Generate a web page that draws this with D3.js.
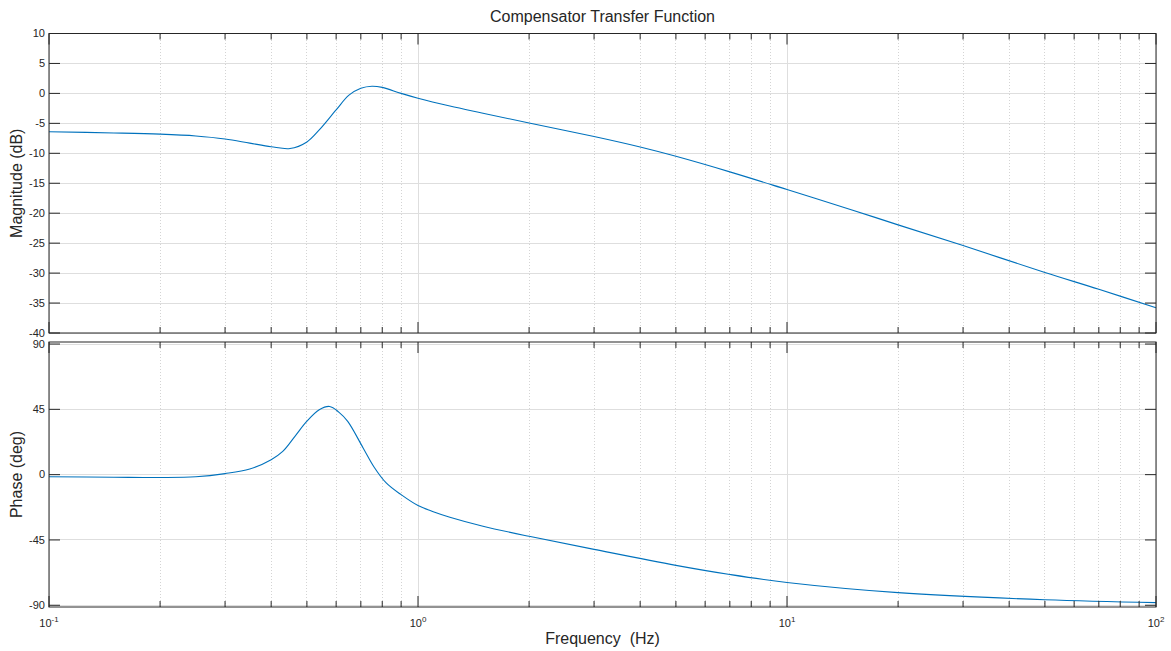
<!DOCTYPE html>
<html><head><meta charset="utf-8">
<script src="https://cdn.jsdelivr.net/npm/d3@7"></script>
<style>
body{margin:0;background:#fff;}
text{font-family:"Liberation Sans",Arial,Helvetica,sans-serif;fill:#262626;}
</style></head>
<body><svg id="c" width="1171" height="651"></svg>
<script>
const freqMag = [0.1,0.15,0.2,0.25,0.3,0.35,0.4,0.45,0.5,0.54,0.6,0.65,0.7,0.75,0.8,0.9,1,1.22,1.5,2,3,4,5,7,10,15,20,30,50,70,100];
const magDb   = [-6.4,-6.6,-6.8,-7.1,-7.6,-8.3,-8.9,-9.2,-8.1,-6.1,-2.75,-0.3,0.85,1.2,1.0,0.0,-0.8,-2.1,-3.3,-4.95,-7.2,-8.95,-10.5,-13.1,-16.05,-19.45,-21.95,-25.4,-29.9,-32.7,-35.8];
const freqPh  = [0.1,0.15,0.2,0.25,0.3,0.35,0.4,0.43,0.464,0.5,0.54,0.576,0.61,0.645,0.71,0.76,0.82,0.9,1,1.1,1.22,1.5,2,3,5,7,10,20,50,100];
const phaseDeg= [-1.4,-1.8,-2.0,-1.5,0.7,3.9,10.3,16,26.4,36.8,44.7,47,43.1,36.7,18.4,5.3,-5.7,-13.8,-21.3,-25.5,-29.3,-35.5,-42.5,-51.5,-62.5,-68.8,-74.3,-81.3,-86.2,-88.2];
const magTicks = [10,5,0,-5,-10,-15,-20,-25,-30,-35,-40];
const phaseTicks = [90,45,0,-45,-90];
const decadeTicks = [0.1,1,10,100];
const decadeLabels = ["-1","0","1","2"];

const svg = d3.select("#c");
const L = 49, R = 1156;
const x = d3.scaleLog().domain([0.1,100]).range([L,R]);
const yM = d3.scaleLinear().domain([-40,10]).range([333,33.5]);
const yP = d3.scaleLinear().domain([-91.2,91.4]).range([607,342]);
const axisCol = "#262626";

const minor = [];
for (let d=-1; d<2; d++) for (let k=2; k<=9; k++) minor.push(k*Math.pow(10,d));

function panel(y, ticks, vals, freqs) {
  const [b,t] = y.range();
  const g = svg.append("g");
  g.selectAll(".mg").data(minor).join("line")
    .attr("x1",d=>x(d)).attr("x2",d=>x(d)).attr("y1",t).attr("y2",b)
    .attr("stroke","#d4d4d4").attr("stroke-width",1).attr("stroke-dasharray","1,2").attr("shape-rendering","crispEdges");
  g.selectAll(".Mg").data(decadeTicks).join("line")
    .attr("x1",d=>x(d)).attr("x2",d=>x(d)).attr("y1",t).attr("y2",b)
    .attr("stroke","#dedede").attr("stroke-width",1).attr("shape-rendering","crispEdges");
  g.selectAll(".yg").data(ticks).join("line")
    .attr("x1",L).attr("x2",R).attr("y1",d=>y(d)).attr("y2",d=>y(d))
    .attr("stroke","#dedede").attr("stroke-width",1).attr("shape-rendering","crispEdges");
  const line = d3.line().x(d=>x(d[0])).y(d=>y(d[1])).curve(d3.curveCatmullRom.alpha(0.5));
  g.append("path").datum(freqs.map((f,i)=>[f,vals[i]]))
    .attr("d",line).attr("fill","none").attr("stroke","#0072BD").attr("stroke-width",1.1);
  g.append("rect").attr("x",L).attr("y",t).attr("width",R-L).attr("height",b-t)
    .attr("fill","none").attr("stroke",axisCol).attr("stroke-width",1);
  g.selectAll(".yt").data(ticks).join("line")
    .attr("x1",L).attr("x2",L+11).attr("y1",d=>y(d)).attr("y2",d=>y(d)).attr("stroke",axisCol);
  g.selectAll(".yt2").data(ticks).join("line")
    .attr("x1",R-11).attr("x2",R).attr("y1",d=>y(d)).attr("y2",d=>y(d)).attr("stroke",axisCol);
  g.selectAll(".xt").data(decadeTicks).join("line")
    .attr("x1",d=>x(d)).attr("x2",d=>x(d)).attr("y1",b).attr("y2",b-11).attr("stroke",axisCol);
  g.selectAll(".xt2").data(decadeTicks).join("line")
    .attr("x1",d=>x(d)).attr("x2",d=>x(d)).attr("y1",t).attr("y2",t+11).attr("stroke",axisCol);
  g.selectAll(".xm").data(minor).join("line")
    .attr("x1",d=>x(d)).attr("x2",d=>x(d)).attr("y1",b).attr("y2",b-6).attr("stroke",axisCol);
  g.selectAll(".xm2").data(minor).join("line")
    .attr("x1",d=>x(d)).attr("x2",d=>x(d)).attr("y1",t).attr("y2",t+6).attr("stroke",axisCol);
  g.selectAll(".yl").data(ticks).join("text")
    .attr("x",L-4).attr("y",d=>y(d)).attr("dy","0.35em").attr("text-anchor","end")
    .attr("font-size",11).text(d=>d);
}
panel(yM, magTicks, magDb, freqMag);
panel(yP, phaseTicks, phaseDeg, freqPh);

const xl = svg.selectAll(".xl").data(decadeTicks).join("text")
  .attr("x",d=>x(d)).attr("y",627).attr("text-anchor","middle").attr("font-size",11);
xl.append("tspan").text("10");
xl.append("tspan").attr("dy",-5).attr("font-size",8).text((d,i)=>decadeLabels[i]);

svg.append("text").attr("x",(L+R)/2).attr("y",22).attr("text-anchor","middle")
  .attr("font-size",16).text("Compensator Transfer Function");
svg.append("text").attr("x",(L+R)/2).attr("y",644).attr("text-anchor","middle")
  .attr("font-size",16).attr("xml:space","preserve").text("Frequency  (Hz)");
svg.append("text").attr("transform",`translate(22,${(yM.range()[0]+yM.range()[1])/2}) rotate(-90)`)
  .attr("text-anchor","middle").attr("font-size",16).text("Magnitude (dB)");
svg.append("text").attr("transform",`translate(22,${(yP.range()[0]+yP.range()[1])/2}) rotate(-90)`)
  .attr("text-anchor","middle").attr("font-size",16).text("Phase (deg)");
</script></body></html>
